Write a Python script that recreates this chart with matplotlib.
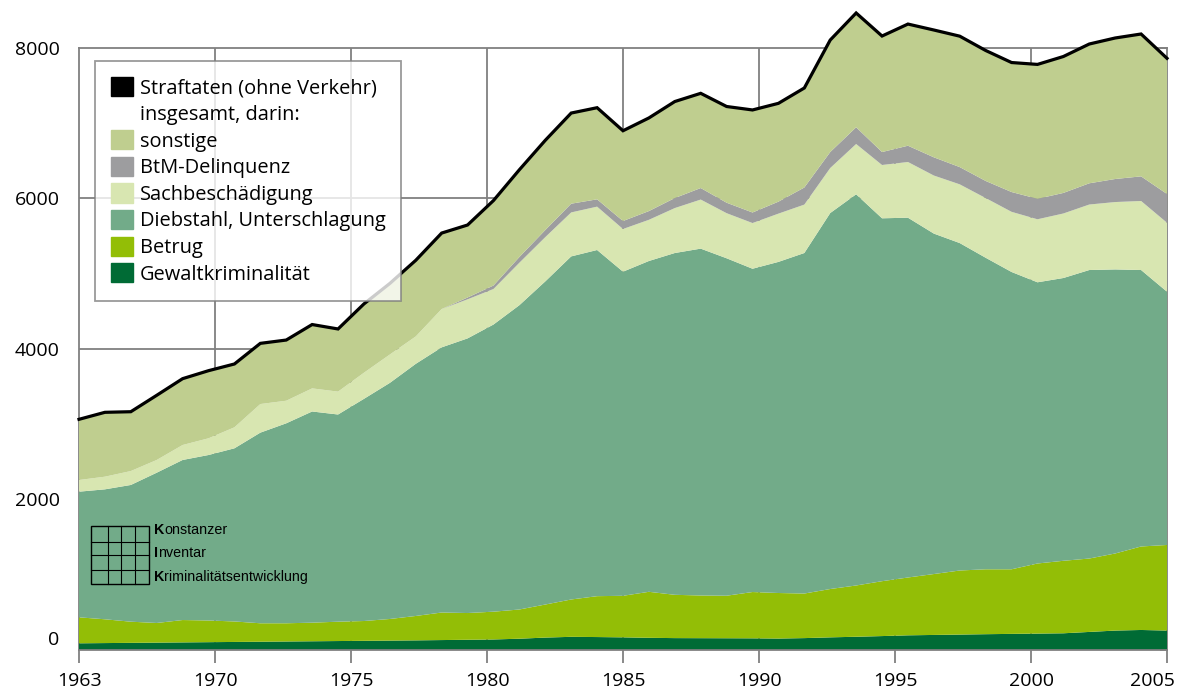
import matplotlib
matplotlib.use("Agg")
import matplotlib.pyplot as plt
import matplotlib.patches as mpatches
import matplotlib.lines as mlines
from matplotlib.transforms import IdentityTransform, ScaledTranslation
import numpy as np

plt.rcParams['font.family'] = ['Open Sans', 'DejaVu Sans']

# Häufigkeitszahlen 1963-2005
years = list(range(1963, 2006))
gewalt = [89, 92, 95, 98, 101, 104, 107, 110, 113, 116, 119, 122, 125, 128, 132, 136, 140,
          150, 165, 175, 172, 168, 162, 158, 157, 156, 155, 152, 158, 168, 176, 185, 195,
          200, 205, 210, 214, 218, 222, 240, 258, 266, 258]
betrug = [345, 316, 281, 261, 297, 288, 272, 245, 242, 247, 257, 263, 287, 324, 366, 355, 369,
          388, 439, 496, 543, 552, 611, 575, 567, 565, 615, 605, 592, 642, 681, 729, 768,
          809, 851, 862, 858, 931, 963, 975, 1024, 1109, 1137]
diebstahl = [1669, 1726, 1816, 1996, 2126, 2198, 2300, 2532, 2656, 2805, 2752, 2951, 3136, 3349,
             3522, 3648, 3814, 4042, 4292, 4557, 4598, 4305, 4394, 4540, 4607, 4482, 4294,
             4398, 4523, 4994, 5196, 4820, 4779, 4522, 4349, 4138, 3949, 3735, 3756, 3832,
             3773, 3672, 3364]
sachbesch = [155, 168, 185, 169, 199, 222, 279, 380, 300, 307, 304, 347, 377, 364, 509, 519, 472,
             564, 588, 584, 576, 567, 547, 597, 652, 599, 607, 641, 643, 598, 668, 708, 740,
             771, 780, 793, 799, 837, 857, 870, 895, 917, 916]
btm = [0, 0, 0, 0, 0, 0, 0, 0, 0, 0, 0, 0, 0, 0, 0, 24, 46,
       76, 94, 116, 97, 106, 116, 133, 153, 139, 140, 159, 227, 212, 222, 172, 216,
       242, 229, 227, 263, 272, 273, 282, 306, 327, 382]
sonstige = [806, 855, 788, 859, 881, 898, 841, 806, 806, 848, 832, 914, 944, 1011, 1009, 963, 1129,
            1159, 1192, 1204, 1217, 1199, 1237, 1282, 1258, 1278, 1362, 1306, 1322, 1488, 1518,
            1541, 1616, 1691, 1739, 1733, 1720, 1785, 1812, 1850, 1873, 1891, 1802]

tick_labels = ['1963', '1970', '1975', '1980', '1985', '1990', '1995', '2000', '2005']

labels = ['Gewaltkriminalität', 'Betrug', 'Diebstahl, Unterschlagung',
          'Sachbeschädigung', 'BtM-Delinquenz', 'sonstige']
colors = ['#006b35', '#93be06', '#72ab89', '#d8e6b1', '#9d9d9f', '#bfce8f']
grey = '#808080'

total = np.sum([gewalt, betrug, diebstahl, sachbesch, btm, sonstige], axis=0)

fig = plt.figure(figsize=(11.85, 6.91), dpi=100)
ax = fig.add_axes([79 / 1185, 41 / 691, 1088 / 1185, 602.3 / 691])

polys = ax.stackplot(years, gewalt, betrug, diebstahl, sachbesch, btm, sonstige,
                     colors=colors, linewidth=0, zorder=2)
for p in polys:
    p.set_clip_on(False)
ax.plot(years, total, color='black', lw=2.3, zorder=3, clip_on=False,
        solid_joinstyle='miter')

ax.set_xlim(1963, 2005)
ax.set_ylim(0, 8000)
xt = np.linspace(1963, 2005, len(tick_labels))
ax.set_xticks(xt)
ax.set_xticklabels(tick_labels, fontsize=14)
ax.set_yticks([0, 2000, 4000, 6000, 8000])
ax.set_yticklabels(['0', '2000', '4000', '6000', '8000'], fontsize=14)
ax.tick_params(axis='x', direction='out', length=9, width=1.3, color=grey, pad=7)
ax.tick_params(axis='y', left=False, right=True, direction='in', length=5,
               width=1.3, color=grey, pad=14)

# last x label pulled inside the figure, 0 label lifted as in the original
tl = ax.get_xticklabels()[-1]
tl.set_transform(tl.get_transform() + ScaledTranslation(-15 / 100, 0, fig.dpi_scale_trans))
tl = ax.get_yticklabels()[0]
tl.set_transform(tl.get_transform() + ScaledTranslation(0, 12 / 100, fig.dpi_scale_trans))

for x in xt[1:-1]:
    ax.axvline(x, color=grey, lw=1.3, zorder=1)
for y in [2000, 4000, 6000]:
    ax.axhline(y, color=grey, lw=1.3, zorder=1)
for s in ax.spines.values():
    s.set_color(grey)
    s.set_linewidth(1.3)
    s.set_zorder(1)
ax.spines['bottom'].set_zorder(4)

# legend
handles = [mpatches.Patch(color='black', label='Straftaten (ohne Verkehr)'),
           mpatches.Patch(color='none', label='insgesamt, darin:')]
for lab, c in zip(labels[::-1], colors[::-1]):
    handles.append(mpatches.Patch(color=c, label=lab))
leg = ax.legend(handles=handles, loc='upper left',
                bbox_to_anchor=(95 / 1185, 1 - 61 / 691), bbox_transform=fig.transFigure,
                borderaxespad=0, fontsize=14.4, frameon=True, fancybox=False,
                handlelength=1.1, handleheight=1.1, handletextpad=0.33,
                labelspacing=0.26, borderpad=0.8)
leg.get_frame().set_edgecolor(grey)
leg.get_frame().set_linewidth(1.3)
leg.set_zorder(5)

# KIK logo
ident = IdentityTransform()
lx, ly, ls = 91, 691 - 584, 58
ax.add_artist(mpatches.Rectangle((lx, ly), ls, ls, transform=ident, fill=False,
                                 ec='black', lw=1, zorder=6, clip_on=False))
for fx in [0.3, 0.52, 0.75]:
    ax.add_artist(mlines.Line2D([lx + fx * ls] * 2, [ly, ly + ls], transform=ident,
                                color='black', lw=0.8, zorder=6, clip_on=False))
for fy in [0.25, 0.5, 0.72]:
    ax.add_artist(mlines.Line2D([lx, lx + ls], [ly + fy * ls] * 2, transform=ident,
                                color='black', lw=0.8, zorder=6, clip_on=False))
words = [('K', 'onstanzer', 530), ('I', 'nventar', 553), ('K', 'riminalitätsentwicklung', 577)]
for first, rest, yy in words:
    t = fig.text(154, 691 - yy, first, transform=ident, fontsize=10.3,
                 family='Liberation Sans', fontweight='bold', va='center', ha='left')
    ax.annotate(rest, xy=(1, 0), xycoords=t, va='bottom', ha='left', fontsize=10.3,
                family='Liberation Sans', annotation_clip=False)

fig.savefig('out.png', dpi=100)
